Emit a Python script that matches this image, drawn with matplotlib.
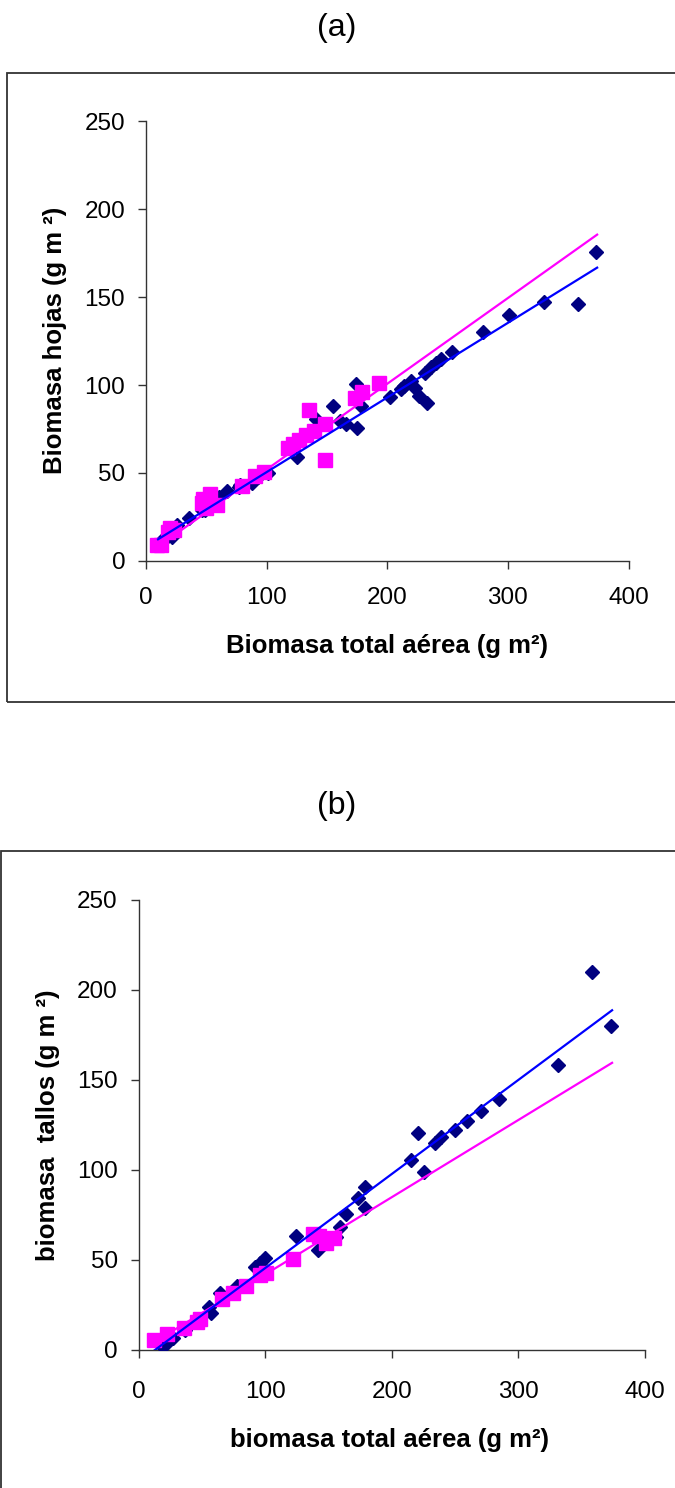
import matplotlib
matplotlib.use("Agg")
import matplotlib.pyplot as plt
from matplotlib.patches import Rectangle
import numpy as np

# panel (a): leaves vs total above-ground biomass
a_blue_x = [12.5, 16, 21.4, 23, 26, 36, 46.4, 49, 60.7, 67, 77, 78, 88, 93, 101, 125, 141, 155,
            161, 166, 174, 175, 178.5, 202, 211, 214, 220, 223, 226, 231, 233, 236, 240, 244.6,
            254, 279, 300.7, 329.6, 358, 373]
a_blue_y = [11.4, 12.6, 13.7, 15.5, 20.5, 24.2, 29.1, 28.8, 36.3, 39.5, 42, 43, 44.3, 48, 49.8,
            59.3, 80.5, 88.2, 79.4, 77.8, 100.3, 75.7, 87.9, 93.3, 97.9, 99.4, 102.4, 98.5, 93.5,
            107, 90, 110, 112.6, 114.5, 119, 130, 139.6, 147, 146, 175.6]
a_mag_x = [8.9, 12.5, 18, 20, 23.5, 46.4, 47.5, 50, 53, 58.5, 79.5, 90, 98, 118, 121.5, 126.8,
           133, 135.5, 139, 148.5, 148.5, 173, 179, 193]
a_mag_y = [9, 9.1, 16.4, 18.5, 17.8, 32.7, 35, 30.3, 38, 31.6, 42.8, 48.5, 50.6, 64.2, 66.5, 69,
           71.5, 86, 74, 77.6, 57.5, 92.7, 95.8, 101]

# panel (b): stems vs total above-ground biomass
b_blue_x = [18, 19.5, 25, 27, 37, 48.6, 55.5, 57, 64, 66, 77.5, 91.8, 93, 96, 100, 124, 142, 156,
            159, 164.2, 173.3, 179, 179, 215.5, 220.7, 225.3, 234, 239, 250, 259.5, 270.7, 285,
            331, 358, 372.8]
b_blue_y = [3.4, 1.6, 5.7, 6.5, 11.2, 17.2, 24, 20.5, 31.5, 29.8, 35.3, 46.1, 45.9, 48.2, 51.3,
            63.4, 55.3, 63, 68.3, 75.8, 84.6, 90.6, 78.8, 105.5, 120.4, 99, 115, 118.6, 122, 127.3,
            132.6, 139.4, 158.3, 209.9, 180]
b_mag_x = [12, 22.5, 36, 46, 48.5, 66, 74.5, 85, 96, 100.3, 122, 137.5, 142.5, 148.3, 154]
b_mag_y = [5.6, 8.7, 12.3, 15.7, 17.4, 28.2, 31.7, 35.3, 41.5, 43, 50.5, 64.5, 63.5, 59.4, 62.5]

# linear trend lines (slope, intercept) and x-span
a_blue_fit = (0.424, 8.1)
a_mag_fit = (0.487, 3.3)
b_blue_fit = (0.5227, -6.75)
b_mag_fit = (0.429, -0.9)
fit_span = [10, 374]

NAVY = "#000080"
MAGENTA = "#FF00FF"
BLUE = "#0000FF"
AXIS = "#333333"

plt.rcParams.update({
    "font.family": ["Liberation Sans", "DejaVu Sans"],
    "font.size": 17,
})

W, H = 675, 1488
fig = plt.figure(figsize=(W / 100, H / 100), dpi=100)


def px_axes(left, top, right, bottom):
    return fig.add_axes([left / W, 1 - bottom / H, (right - left) / W, (bottom - top) / H])


def draw_panel(ax, bx, by, mx, my, bfit, mfit, xpad):
    ax.plot(bx, by, ls="none", marker="D", ms=7.2, color=NAVY, mec=NAVY, zorder=3)
    ax.plot(mx, my, ls="none", marker="s", ms=9.5, color=MAGENTA, mec=MAGENTA, zorder=4)
    xs = np.array(fit_span)
    ax.plot(xs, mfit[0] * xs + mfit[1], color=MAGENTA, lw=1.6, zorder=5)
    ax.plot(xs, bfit[0] * xs + bfit[1], color=BLUE, lw=1.6, zorder=5)
    ax.set_xlim(0, 400)
    ax.set_ylim(0, 250)
    ax.set_xticks([0, 100, 200, 300, 400])
    ax.set_yticks([0, 50, 100, 150, 200, 250])
    for s in ["top", "right"]:
        ax.spines[s].set_visible(False)
    for s in ["left", "bottom"]:
        ax.spines[s].set_color(AXIS)
        ax.spines[s].set_linewidth(1.0)
    ax.tick_params(direction="out", length=6, width=1.0, color=AXIS, labelsize=17.5)
    ax.tick_params(axis="x", pad=xpad)
    ax.tick_params(axis="y", pad=9)
    ax.patch.set_alpha(0)


ax_a = px_axes(146, 121, 628.5, 561)
draw_panel(ax_a, a_blue_x, a_blue_y, a_mag_x, a_mag_y, a_blue_fit, a_mag_fit, 13)
ax_b = px_axes(138.6, 900, 645, 1350)
draw_panel(ax_b, b_blue_x, b_blue_y, b_mag_x, b_mag_y, b_blue_fit, b_mag_fit, 16)

# frames around each panel
fig.patches.append(Rectangle((7 / W, 1 - 702 / H), 700 / W, 629 / H, transform=fig.transFigure,
                             fill=False, ec=AXIS, lw=1.3))
fig.patches.append(Rectangle((1 / W, -0.1), 700 / W, 0.1 + 1 - 851 / H, transform=fig.transFigure,
                             fill=False, ec=AXIS, lw=1.3))

fig.text(337 / W, 1 - 28 / H, "(a)", ha="center", va="center", fontsize=23)
fig.text(337 / W, 1 - 806 / H, "(b)", ha="center", va="center", fontsize=23)

label_kw = dict(fontsize=18.5, fontweight="bold")
fig.text(387 / W, 1 - 653 / H, "Biomasa total aérea (g m²)", ha="center", va="baseline", **label_kw)
fig.text(62 / W, 1 - 340 / H, "Biomasa hojas (g m ²)", ha="center", va="baseline",
         rotation=90, rotation_mode="anchor", **label_kw)
fig.text(390 / W, 1 - 1447 / H, "biomasa total aérea (g m²)", ha="center", va="baseline", **label_kw)
fig.text(55 / W, 1 - 1125 / H, "biomasa  tallos (g m ²)", ha="center", va="baseline",
         rotation=90, rotation_mode="anchor", **label_kw)

fig.savefig("out.png", dpi=100, facecolor="white")
